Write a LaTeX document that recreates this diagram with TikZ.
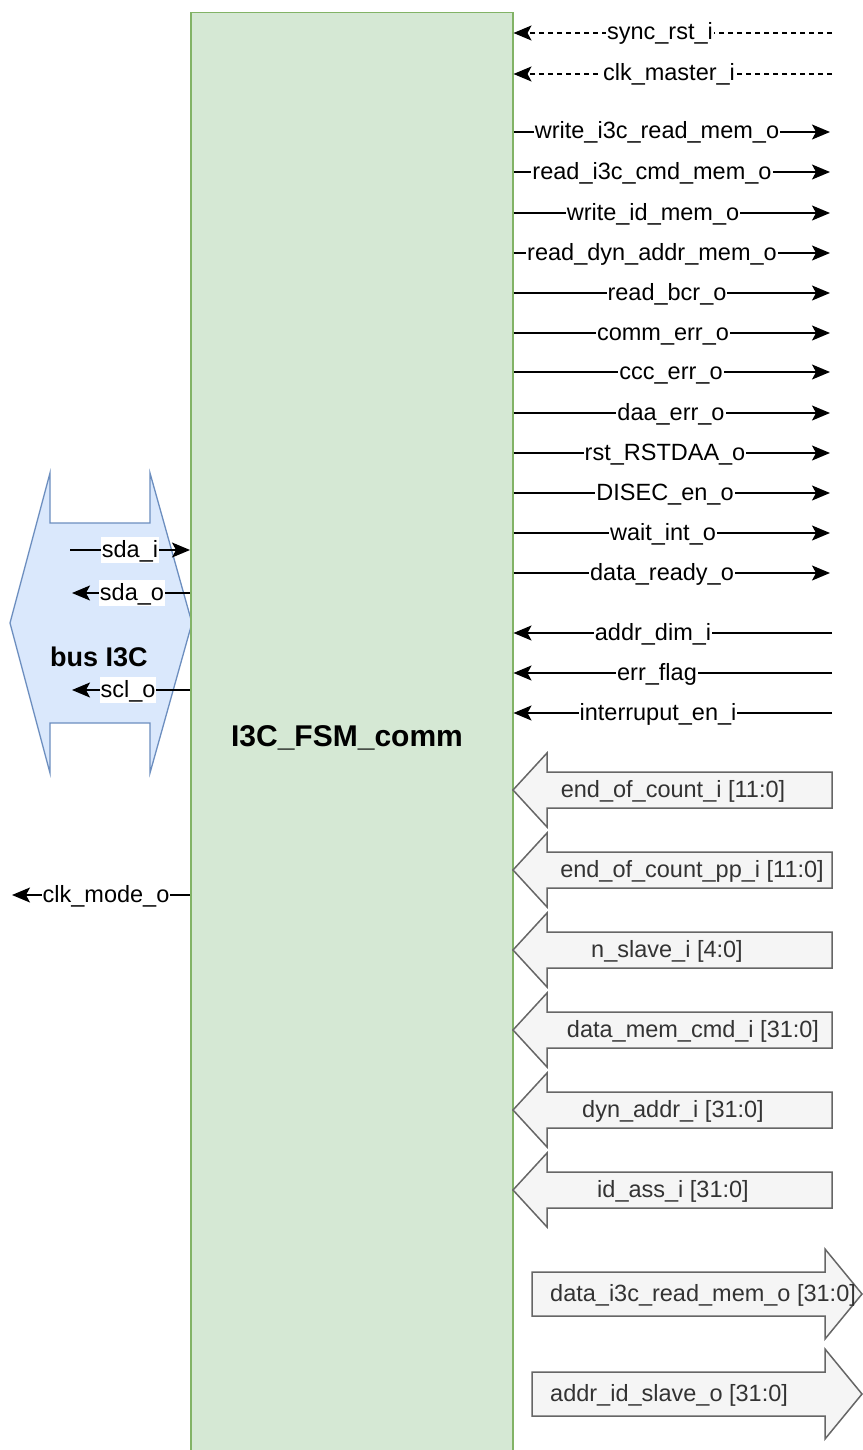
\documentclass[tikz,border=0pt]{standalone}
\usepackage{fontspec}
\setmainfont{Liberation Sans}
\usepackage{xcolor}
\definecolor{FsmFill}{HTML}{D5E8D4}
\definecolor{FsmLine}{HTML}{82B366}
\definecolor{BusFill}{HTML}{DAE8FC}
\definecolor{BusLine}{HTML}{6C8EBF}
\definecolor{PortFill}{HTML}{F5F5F5}
\definecolor{PortLine}{HTML}{666666}
\definecolor{PortText}{HTML}{333333}
\usepackage{tikz}
\usetikzlibrary{calc, arrows.meta}

\begin{document}
\begin{tikzpicture}[x=1pt, y=-1pt,
    sig/.style={line width=1.5pt, -{Stealth[length=18pt, width=15pt, inset=4pt]}},
    sigdash/.style={sig, line width=1.3pt, dash pattern=on 5pt off 4pt},
    siglabel/.style={fill=white, inner sep=1pt, text height=19pt, text depth=5pt,
        font=\fontsize{23.5}{26}\selectfont},
    widearrow/.style={fill=PortFill, draw=PortLine, line width=1.5pt},
    portlabel/.style={text=PortText, inner sep=0pt, text height=19pt, text depth=5pt,
        font=\fontsize{23.5}{26}\selectfont}]

    \useasboundingbox (0,0) rectangle (862,1450);

    % 1. BUS I3C (double arrow on the left)
    \draw[fill=BusFill, draw=BusLine, line width=1.3pt]
        (10,623) -- (50,473) -- (50,523) -- (150,523) -- (150,473) -- (192,623)
        -- (150,773) -- (150,723) -- (50,723) -- (50,773) -- cycle;
    \node[font=\fontsize{27}{30}\selectfont\bfseries] (buslabel) at (99,657) {bus I3C};

    % 2. THE FSM BLOCK
    \node[draw=FsmLine, fill=FsmFill, line width=1.5pt, inner sep=0pt,
        minimum width=322, minimum height=1460, anchor=north west] (fsm) at (190,12) {};
    \node[font=\fontsize{30}{33}\selectfont\bfseries] (fsmlabel) at (347,738) {I3C\_FSM\_comm};

    % 3. BUS SIGNALS
    \coordinate (sdai) at (70,550);
    \draw[sig] (sdai) -- (fsm.west |- sdai);
    \node[siglabel] (sdailbl) at (130,550) {sda\_i};
    \foreach \y/\lx/\txt [count=\i] in {593/132/sda\_o, 690/128/scl\_o, 895/106/clk\_mode\_o} {
        \coordinate (busout\i) at ({\i==3 ? 12 : 72},\y);
        \draw[sig] (fsm.west |- busout\i) -- (busout\i);
        \node[siglabel] (busoutlbl\i) at (\lx,\y) {\txt};
    }

    % 4. CLOCK AND RESET (dashed)
    \foreach \y/\lx/\txt [count=\i] in {33/660/sync\_rst\_i, 74/669/clk\_master\_i} {
        \coordinate (clk\i) at (832,\y);
        \draw[sigdash] (clk\i) -- (fsm.east |- clk\i);
        \node[siglabel] (clklbl\i) at (\lx,\y) {\txt};
    }

    % 5. SINGLE-BIT OUTPUTS
    \foreach \y/\lx/\txt [count=\i] in {
        132/657/write\_i3c\_read\_mem\_o,
        172/652/read\_i3c\_cmd\_mem\_o,
        213/653/write\_id\_mem\_o,
        253/652/read\_dyn\_addr\_mem\_o,
        293/667/read\_bcr\_o,
        333/663/comm\_err\_o,
        372/671/ccc\_err\_o,
        413/671/daa\_err\_o,
        453/665/rst\_RSTDAA\_o,
        493/665/DISEC\_en\_o,
        533/663/wait\_int\_o,
        573/662/data\_ready\_o} {
        \coordinate (out\i) at (830,\y);
        \draw[sig] (fsm.east |- out\i) -- (out\i);
        \node[siglabel] (outlbl\i) at (\lx,\y) {\txt};
    }

    % 6. SINGLE-BIT INPUTS
    \foreach \y/\lx/\txt [count=\i] in {633/653/addr\_dim\_i, 673/657/err\_flag, 713/658/interruput\_en\_i} {
        \coordinate (in\i) at (832,\y);
        \draw[sig] (in\i) -- (fsm.east |- in\i);
        \node[siglabel] (inlbl\i) at (\lx,\y) {\txt};
    }

    % 7. BUSES IN (wide arrows)
    \foreach \c/\lx/\txt [count=\i] in {
        790/673/end\_of\_count\_i [11:0],
        870/692/end\_of\_count\_pp\_i [11:0],
        950/667/n\_slave\_i [4:0],
        1030/693/data\_mem\_cmd\_i [31:0],
        1110/673/dyn\_addr\_i [31:0],
        1190/673/id\_ass\_i [31:0]} {
        \draw[widearrow] (513,\c) -- (547,{\c-37}) -- (547,{\c-18}) -- (832,{\c-18})
            -- (832,{\c+18}) -- (547,{\c+18}) -- (547,{\c+37}) -- cycle;
        \node[portlabel] (buslbl\i) at (\lx,\c) {\txt};
    }

    % 8. BUSES OUT (wide arrows)
    \foreach \c/\txt [count=\i] in {1294/data\_i3c\_read\_mem\_o [31:0], 1394/addr\_id\_slave\_o [31:0]} {
        \draw[widearrow] (532,{\c-22}) -- (825,{\c-22}) -- (825,{\c-45}) -- (862,\c)
            -- (825,{\c+45}) -- (825,{\c+22}) -- (532,{\c+22}) -- cycle;
        \node[portlabel, anchor=west] (busoutw\i) at (550,\c) {\txt};
    }

\end{tikzpicture}
\end{document}
